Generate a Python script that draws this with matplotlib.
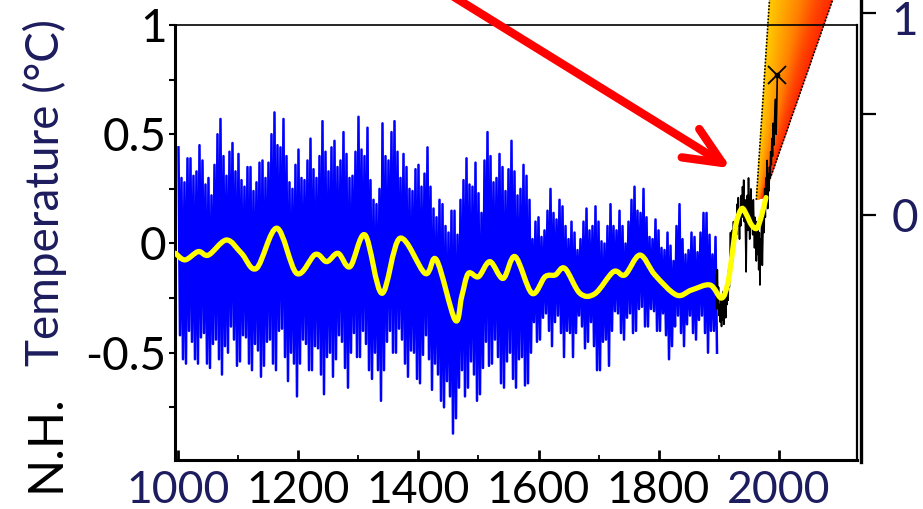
import numpy as np
import matplotlib
matplotlib.use("Agg")
import matplotlib.pyplot as plt
from matplotlib.path import Path
from matplotlib.patches import PathPatch, Polygon
from matplotlib.colors import LinearSegmentedColormap
from matplotlib.transforms import blended_transform_factory

plt.rcParams['font.family'] = ['Lato', 'DejaVu Sans']

# ---------------- data ----------------
x_tick_values = [1000, 1200, 1400, 1600, 1800, 2000]
x_tick_labels = ['1000', '1200', '1400', '1600', '1800', '2000']
x_label_colors = ['#1c1c5e', 'black', 'black', 'black', 'black', '#1c1c5e']
y_tick_values = [-0.5, 0, 0.5, 1]
y_tick_labels = ['-0.5', '0', '0.5', '1']
right_tick_values = [0, 0.5, 1]
right_tick_labels = ['0', '', '1']

# proxy reconstruction: successive high / low excursions (5-year teeth)
blue_hi = [0.44, 0.30, 0.28, 0.39, 0.39, 0.31, 0.33, 0.45, 0.38, 0.27,
           0.30, 0.22, 0.36, 0.50, 0.57, 0.40, 0.31, 0.42, 0.46, 0.33,
           0.41, 0.29, 0.26, 0.35, 0.35, 0.24, 0.28, 0.37, 0.38, 0.30,
           0.37, 0.50, 0.60, 0.45, 0.44, 0.57, 0.40, 0.28, 0.25, 0.36,
           0.43, 0.30, 0.29, 0.38, 0.48, 0.34, 0.30, 0.40, 0.56, 0.42,
           0.33, 0.44, 0.47, 0.35, 0.38, 0.51, 0.41, 0.30, 0.31, 0.42,
           0.58, 0.43, 0.40, 0.53, 0.29, 0.20, 0.18, 0.25, 0.55, 0.40,
           0.38, 0.51, 0.56, 0.42, 0.30, 0.41, 0.35, 0.25, 0.24, 0.34,
           0.36, 0.26, 0.32, 0.44, 0.26, 0.16, 0.12, 0.20, 0.18, 0.08,
           0.05, 0.15, 0.15, 0.04, 0.20, 0.29, 0.39, 0.27, 0.26, 0.37,
           0.23, 0.14, 0.38, 0.51, 0.40, 0.28, 0.30, 0.41, 0.35, 0.24,
           0.34, 0.47, 0.33, 0.22, 0.25, 0.36, 0.31, 0.20, 0.02, 0.10,
           0.12, 0.03, 0.06, 0.15, 0.25, 0.14, 0.11, 0.20, 0.17, 0.08,
           0.02, 0.10, 0.05, -0.03, 0.02, 0.10, 0.16, 0.06, 0.08, 0.17,
           0.10, 0.01, 0.00, 0.08, 0.18, 0.08, 0.06, 0.15, 0.08, 0.00,
           0.10, 0.20, 0.26, 0.15, 0.14, 0.25, 0.12, 0.03, 0.02, 0.11,
           0.06, -0.02, -0.03, 0.05, -0.01, -0.08, 0.08, 0.18, 0.02, -0.05,
           -0.03, 0.05, 0.03, -0.04, 0.05, 0.14, 0.14, 0.04, -0.05, 0.03]
blue_lo = [-0.42, -0.53, -0.55, -0.40, -0.45, -0.53, -0.55, -0.43, -0.41, -0.55,
           -0.57, -0.46, -0.44, -0.53, -0.60, -0.47, -0.50, -0.38, -0.44, -0.56,
           -0.54, -0.42, -0.43, -0.55, -0.58, -0.46, -0.49, -0.61, -0.56, -0.45,
           -0.44, -0.55, -0.58, -0.40, -0.39, -0.52, -0.63, -0.50, -0.55, -0.70,
           -0.55, -0.44, -0.46, -0.58, -0.58, -0.47, -0.48, -0.60, -0.69, -0.52,
           -0.50, -0.61, -0.53, -0.42, -0.45, -0.57, -0.66, -0.50, -0.41, -0.52,
           -0.52, -0.40, -0.46, -0.58, -0.62, -0.50, -0.58, -0.72, -0.58, -0.45,
           -0.40, -0.50, -0.50, -0.39, -0.44, -0.55, -0.61, -0.49, -0.50, -0.62,
           -0.64, -0.51, -0.42, -0.53, -0.67, -0.55, -0.60, -0.72, -0.75, -0.63,
           -0.70, -0.87, -0.80, -0.66, -0.58, -0.70, -0.66, -0.54, -0.60, -0.72,
           -0.69, -0.57, -0.45, -0.56, -0.55, -0.44, -0.52, -0.64, -0.66, -0.54,
           -0.50, -0.62, -0.66, -0.53, -0.52, -0.65, -0.64, -0.50, -0.36, -0.45,
           -0.44, -0.34, -0.32, -0.40, -0.47, -0.36, -0.33, -0.41, -0.52, -0.40,
           -0.41, -0.52, -0.41, -0.33, -0.38, -0.48, -0.45, -0.36, -0.47, -0.58,
           -0.58, -0.45, -0.44, -0.56, -0.40, -0.31, -0.32, -0.41, -0.44, -0.34,
           -0.32, -0.41, -0.40, -0.30, -0.29, -0.38, -0.38, -0.30, -0.31, -0.40,
           -0.40, -0.32, -0.42, -0.53, -0.47, -0.38, -0.33, -0.41, -0.47, -0.37,
           -0.33, -0.41, -0.44, -0.35, -0.33, -0.41, -0.50, -0.40, -0.40, -0.50]
blue_first_year = 1000
blue_step = 5

# instrumental record
black_years = list(range(1896, 1999))
black_vals = [-0.15, -0.30, -0.12, -0.26, -0.20, -0.33, -0.28, -0.36, -0.24, -0.38,
              -0.30, -0.35, -0.22, -0.37, -0.32, -0.25, -0.34, -0.20, -0.28, -0.18,
              -0.26, -0.12, -0.20, -0.08, 0.05, -0.10, -0.02, 0.06, -0.08, 0.10,
              -0.04, 0.08, 0.02, 0.12, 0.04, 0.18, 0.08, 0.21, 0.12, 0.02,
              0.15, 0.08, 0.22, 0.12, 0.26, 0.18, 0.29, 0.10, 0.20, 0.05,
              -0.13, 0.10, 0.22, 0.06, 0.30, 0.12, 0.02, 0.18, 0.25, 0.08,
              0.15, 0.04, 0.20, 0.10, -0.02, 0.12, 0.06, -0.08, 0.10, -0.05,
              0.08, -0.12, 0.05, -0.19, 0.02, -0.06, 0.15, -0.10, 0.04, 0.12,
              0.05, 0.25, 0.12, 0.30, 0.20, 0.38, 0.16, 0.32, 0.24, 0.35,
              0.30, 0.42, 0.36, 0.48, 0.40, 0.55, 0.45, 0.52, 0.60, 0.66,
              0.50, 0.62, 0.77]
star_year = 1998
star_val = 0.77

# smoothed curve
smooth_years = [995, 1011, 1033, 1050, 1080, 1105, 1130, 1164, 1197, 1228,
                1247, 1266, 1286, 1311, 1339, 1369, 1411, 1430, 1461, 1472,
                1483, 1500, 1519, 1541, 1561, 1589, 1611, 1628, 1644, 1669,
                1694, 1725, 1744, 1769, 1794, 1830, 1855, 1886, 1905, 1916,
                1925, 1930, 1939, 1947, 1955, 1964, 1972, 1979]
smooth_vals = [-0.045, -0.075, -0.037, -0.053, 0.016, -0.045, -0.114, 0.07, -0.137, -0.05,
               -0.083, -0.045, -0.106, 0.039, -0.228, 0.024, -0.137, -0.075, -0.35, -0.243,
               -0.137, -0.152, -0.083, -0.16, -0.06, -0.228, -0.152, -0.144, -0.114, -0.228,
               -0.23, -0.129, -0.144, -0.053, -0.144, -0.236, -0.213, -0.19, -0.25, -0.175,
               0.0, 0.10, 0.16, 0.13, 0.085, 0.07, 0.13, 0.21]

# projection fan (edges: bottom point, top point)
fan_left_years = [1963, 1987]
fan_left_vals = [0.20, 1.20]
fan_right_years = [1975, 2101]
fan_right_vals = [0.21, 1.20]

# red arrow (tail, head)
arrow_tail = (1420, 1.195)
arrow_head = (1921, 0.344)

NAVY = '#1c1c5e'

# ---------------- figure ----------------
fig = plt.figure(figsize=(9.23, 5.09), dpi=100)
ax = fig.add_axes([175 / 923, 1 - 460 / 509, (857 - 175) / 923, (460 - 25) / 509])
ax.set_xlim(994.2, 2130.8)
ax.set_ylim(-0.991, 1.0)

# fan (gradient slices)
cmap = LinearSegmentedColormap.from_list('fan', ['#ffcc00', '#ffa600', '#ff8000', '#ff4a00', '#ff2800'])
nsl = 60
lb = np.array([fan_left_years[0], fan_left_vals[0]])
lt = np.array([fan_left_years[1], fan_left_vals[1]])
rb = np.array([fan_right_years[0], fan_right_vals[0]])
rt = np.array([fan_right_years[1], fan_right_vals[1]])
ts = np.linspace(0, 1, nsl + 1)
for i in range(nsl):
    t0, t1 = ts[i], ts[i + 1]
    b0 = lb + (rb - lb) * t0
    b1 = lb + (rb - lb) * t1
    u0 = lt + (rt - lt) * t0
    u1 = lt + (rt - lt) * t1
    c = cmap(0.5 * (t0 + t1))
    ax.add_patch(Polygon([b0, b1, u1, u0], closed=True, facecolor=c, edgecolor=c,
                         lw=0.6, clip_on=False, zorder=1))
ax.plot(fan_left_years, fan_left_vals, color='black', lw=1.2, ls=(0, (1, 1)), clip_on=False, zorder=1.5)
ax.plot(fan_right_years, fan_right_vals, color='black', lw=1.2, ls=(0, (1, 1)), clip_on=False, zorder=1.5)

# blue proxy series (zigzag between successive highs and lows)
n = len(blue_hi)
hx = blue_first_year + blue_step * np.arange(n)
lx = hx + blue_step / 2
bx = np.empty(2 * n)
by = np.empty(2 * n)
bx[0::2] = hx
bx[1::2] = lx
by[0::2] = blue_hi
by[1::2] = blue_lo
ax.plot(bx, by, color='#0000ff', lw=1.8, zorder=2)

# black instrumental
ax.plot(black_years, black_vals, color='black', lw=1.2, zorder=3)
ax.plot([star_year], [star_val], marker='x', ms=13, mew=1.3, color='black', zorder=4)
ax.plot([star_year], [star_val], marker='o', ms=3, color='black', zorder=4)

# yellow smoothed curve (Bezier through the read points)
P = np.column_stack([smooth_years, smooth_vals]).astype(float)
verts = [P[0]]
codes = [Path.MOVETO]
m = len(P)
for i in range(m - 1):
    p0 = P[i - 1] if i > 0 else P[i]
    p1 = P[i]
    p2 = P[i + 1]
    p3 = P[i + 2] if i + 2 < m else P[i + 1]
    verts += [p1 + (p2 - p0) / 6.0, p2 - (p3 - p1) / 6.0, p2]
    codes += [Path.CURVE4] * 3
ax.add_patch(PathPatch(Path(verts, codes), fill=False, edgecolor='#ffff00', lw=3.8,
                       capstyle='round', joinstyle='round', zorder=5))

# red arrow
ax.annotate('', xy=arrow_head, xytext=arrow_tail, annotation_clip=False,
            arrowprops=dict(arrowstyle='->, head_length=1.35, head_width=0.6',
                            color='#ff0000', lw=6.0, mutation_scale=20,
                            shrinkA=0, shrinkB=0, capstyle='round', joinstyle='round'),
            zorder=6)

# axes styling
for s, w in (('left', 2.2), ('bottom', 2.2), ('top', 1.2), ('right', 1.6)):
    ax.spines[s].set_linewidth(w)
    ax.spines[s].set_zorder(2.5)

ax.set_yticks(y_tick_values)
ax.set_yticklabels(y_tick_labels)
ax.set_yticks([-0.75, -0.25, 0.25, 0.75], minor=True)
ax.tick_params(axis='y', which='both', direction='out', length=4, width=1.5,
               labelsize=33, pad=2, colors='black')

ax.set_xticks(x_tick_values)
ax.set_xticklabels(x_tick_labels)
ax.set_xticks([1100, 1300, 1500, 1700, 1900], minor=True)
ax.tick_params(axis='x', which='major', direction='in', length=7, width=2.0,
               labelsize=32, pad=7)
ax.tick_params(axis='x', which='minor', direction='in', length=3.5, width=1.3)
for lab, col in zip(ax.get_xticklabels(), x_label_colors):
    lab.set_color(col)

# y label (two colours)
fig.text(45 / 923, 1 - 492 / 509, 'N.H.', rotation=90, ha='center', va='bottom',
         fontsize=35, color='black')
fig.text(45 / 923, 1 - 366 / 509, 'Temperature (°C)', rotation=90, ha='center', va='bottom',
         fontsize=33, color=NAVY)

# right-hand axis of the projection panel
ax2 = fig.add_axes([860.7 / 923 - 0.0005, 1 - 462 / 509, 0.0005, 462 / 509])
ax2.set_ylim(-1.2246, 1.066)
ax2.patch.set_visible(False)
for s in ('left', 'top', 'bottom'):
    ax2.spines[s].set_visible(False)
ax2.spines['right'].set_linewidth(2.4)
ax2.xaxis.set_visible(False)
ax2.yaxis.tick_right()
ax2.set_yticks(right_tick_values)
ax2.set_yticklabels([])
ax2.tick_params(axis='y', direction='out', length=11, width=1.6)
tr = blended_transform_factory(ax2.transAxes, ax2.transData)
label_shift = {'0': -3, '1': -6}
for val, lab in zip(right_tick_values, right_tick_labels):
    if lab:
        ax2.annotate(lab, xy=(1, val), xycoords=tr, xytext=(22, label_shift[lab]),
                     textcoords='offset points', ha='left', va='center',
                     fontsize=33, color=NAVY, annotation_clip=False)

fig.savefig('out.png', dpi=100)
